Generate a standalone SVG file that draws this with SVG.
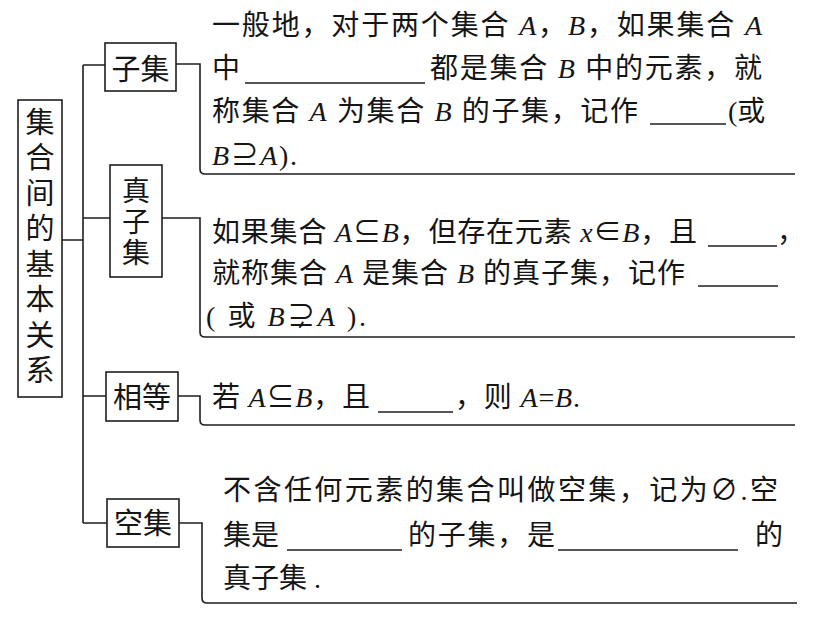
<svg xmlns="http://www.w3.org/2000/svg" width="813" height="620" viewBox="0 0 813 620">
<style>
.bg{fill:#ffffff}
.box{fill:#ffffff;stroke:#1e1e1e;stroke-width:1.6}
.ln{fill:none;stroke:#1e1e1e;stroke-width:1.6}
.bl{fill:none;stroke:#1e1e1e;stroke-width:1.3}
.t{font-family:"Liberation Serif","Noto Sans CJK SC",serif;font-size:28px;fill:#151515}
.k{font-family:"Noto Sans CJK SC",sans-serif;font-size:29px;fill:#151515;text-anchor:middle}
.v{font-family:"Noto Sans CJK SC",sans-serif;fill:#151515;writing-mode:vertical-rl}
.i{font-style:italic}
</style>
<rect class="bg" x="0" y="0" width="813" height="620"/>

<g id="connectors">
<path class="ln" d="M62,240 H83 M83,65 V523 M83,65 H105 M83,218 H110 M83,396 H106 M83,523 H107"/>
<path class="ln" d="M176,64 H200 V169 Q200,174 205,174 H795"/>
<path class="ln" d="M162,218 H200 V332 Q200,337 205,337 H795"/>
<path class="ln" d="M178,396 H200 V420 Q200,425 205,425 H795"/>
<path class="ln" d="M179,523 H202 V598 Q202,603 207,603 H797"/>
</g>

<g id="root">
<rect class="box" x="18" y="100" width="44" height="297"/>
<text class="v" x="40" y="107" font-size="29" letter-spacing="6.5">集合间的基本关系</text>
</g>

<g id="subset">
<rect class="box" x="105" y="43" width="71" height="48"/>
<text class="k" x="140.5" y="80">子集</text>
</g>

<g id="proper-subset">
<rect class="box" x="110" y="165" width="52" height="112"/>
<text class="v" x="136" y="176" font-size="28" letter-spacing="3">真子集</text>
</g>

<g id="equal">
<rect class="box" x="106" y="372" width="72" height="49"/>
<text class="k" x="142" y="408">相等</text>
</g>

<g id="empty">
<rect class="box" x="107" y="499" width="72" height="48"/>
<text class="k" x="143" y="534">空集</text>
</g>

<g id="subset-text">
<text class="t" x="212" y="35" textLength="550" lengthAdjust="spacing">一般地，对于两个集合 <tspan class="i">A</tspan>，<tspan class="i">B</tspan>，如果集合 <tspan class="i">A</tspan></text>
<text class="t" x="212" y="78">中</text>
<line class="bl" x1="245" y1="83" x2="425" y2="83"/>
<text class="t" x="430" y="78" textLength="332" lengthAdjust="spacing">都是集合 <tspan class="i">B</tspan> 中的元素，就</text>
<text class="t" x="212" y="121" textLength="426" lengthAdjust="spacing">称集合 <tspan class="i">A</tspan> 为集合 <tspan class="i">B</tspan> 的子集，记作</text>
<line class="bl" x1="650" y1="124" x2="726" y2="124"/>
<text class="t" x="728" y="121">(或</text>
<text class="t" x="212" y="165" textLength="85" lengthAdjust="spacing"><tspan class="i">B</tspan>⊇<tspan class="i">A</tspan>).</text>
</g>

<g id="proper-subset-text">
<text class="t" x="212" y="242" textLength="485" lengthAdjust="spacing">如果集合 <tspan class="i">A</tspan>⊆<tspan class="i">B</tspan>，但存在元素 <tspan class="i">x</tspan>∈<tspan class="i">B</tspan>，且</text>
<line class="bl" x1="708" y1="246" x2="777" y2="246"/>
<text class="t" x="777" y="242">，</text>
<text class="t" x="212" y="283" textLength="473" lengthAdjust="spacing">就称集合 <tspan class="i">A</tspan> 是集合 <tspan class="i">B</tspan> 的真子集，记作</text>
<line class="bl" x1="698" y1="286" x2="778" y2="286"/>
<text class="t" x="206" y="326" textLength="160" lengthAdjust="spacing">( 或 <tspan class="i">B</tspan>⊋<tspan class="i">A</tspan> ).</text>
</g>

<g id="equal-text">
<text class="t" x="212" y="407" textLength="158" lengthAdjust="spacing">若 <tspan class="i">A</tspan>⊆<tspan class="i">B</tspan>，且</text>
<line class="bl" x1="378" y1="412" x2="453" y2="412"/>
<text class="t" x="455" y="407" textLength="125" lengthAdjust="spacing">，则 <tspan class="i">A</tspan>=<tspan class="i">B</tspan>.</text>
</g>

<g id="empty-text">
<text class="t" x="223" y="500" textLength="555" lengthAdjust="spacing">不含任何元素的集合叫做空集，记为∅.空</text>
<text class="t" x="223" y="545">集是</text>
<line class="bl" x1="287" y1="550" x2="402" y2="550"/>
<text class="t" x="408" y="545" textLength="147" lengthAdjust="spacing">的子集，是</text>
<line class="bl" x1="558" y1="550" x2="738" y2="550"/>
<text class="t" x="755" y="545">的</text>
<text class="t" x="223" y="588">真子集 .</text>
</g>
</svg>
